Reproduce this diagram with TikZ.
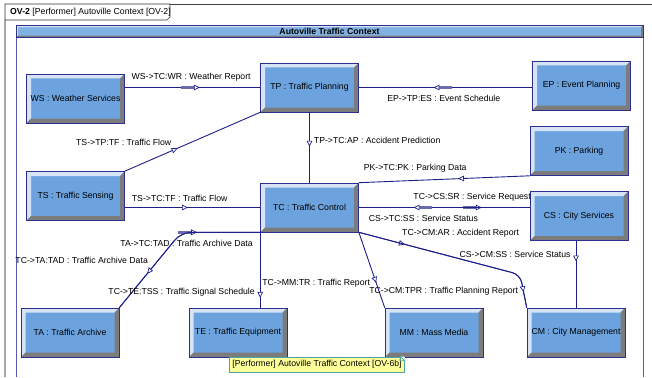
\documentclass[tikz,border=0pt]{standalone}
\usepackage{fontspec}
\setmainfont{Liberation Sans}
\usetikzlibrary{arrows.meta,decorations.markings}

\definecolor{facebl}{HTML}{6CA3DE}
\definecolor{bevlight}{HTML}{D6E4F6}
\definecolor{bevdark}{HTML}{7C7C7C}
\definecolor{boxline}{HTML}{2E2E8E}
\definecolor{edgeblue}{HTML}{1E1E8A}
\definecolor{barblue}{HTML}{6A6AAE}
\definecolor{frameblue}{HTML}{5858B0}
\definecolor{notefill}{HTML}{FFFF99}
\definecolor{noteteal}{HTML}{4CA6A6}
\definecolor{tabgray}{HTML}{A8A8A8}

\newcommand\lblfont{\fontsize{8.7}{10}\selectfont}
\newcommand\ppb{path picture bounding box}

\tikzset{
    bevelled/.style={draw=boxline, line width=0.6pt, fill=facebl, inner sep=0pt,
        path picture={
            \fill[bevlight] (\ppb.south west) -- (\ppb.north west) -- (\ppb.north east)
                -- ([shift={(-#1,-#1)}]\ppb.north east) -- ([shift={(#1,-#1)}]\ppb.north west)
                -- ([shift={(#1,#1)}]\ppb.south west) -- cycle;
            \fill[bevdark] (\ppb.south west) -- (\ppb.south east) -- (\ppb.north east)
                -- ([shift={(-#1,-#1)}]\ppb.north east) -- ([shift={(-#1,#1)}]\ppb.south east)
                -- ([shift={(#1,#1)}]\ppb.south west) -- cycle;
        }},
    performer/.style={bevelled=4.5pt, minimum width=98pt, minimum height=49pt, font=\lblfont},
    edgeline/.style={draw=edgeblue, line width=0.9pt},
    flow/.style={edgeline, postaction={decorate}, decoration={markings, mark=at position #1 with
        {\arrow[edgeblue, line width=0.7pt]{Triangle[fill=white, length=6pt, width=5.5pt]}}}},
    flowbar/.style={edgeline, postaction={decorate}, decoration={markings, mark=at position #1 with
        {\draw[barblue, line width=2.4pt] (-19pt,0) -- (-6pt,0);
         \arrow[edgeblue, line width=0.7pt]{Triangle[fill=white, length=6pt, width=5.5pt]}}}},
    lbl/.style={font=\lblfont, inner sep=1pt, text=black},
    notebox/.style={draw=noteteal, line width=0.8pt, fill=notefill, font=\lblfont, inner sep=2.5pt, minimum height=15pt},
}

\begin{document}
\begin{tikzpicture}[x=1pt, y=-1pt]
    \useasboundingbox (0,0) rectangle (652,377);

    \draw[tabgray, line width=2pt] (5,20) -- (5,377);
    \draw[black!75, line width=0.7pt] (170,4) -- (652,4);
    \draw[black!80, line width=0.7pt, fill=white] (5,4) -- (170,4) -- (170,17) -- (167,20) -- (5,20) -- cycle;
    \node[lbl, anchor=west] (tabname) at (9,12.5) {\textbf{OV-2} [Performer] Autoville Context [OV-2]};

    \draw[frameblue, line width=0.8pt] (16,377) -- (16,25) -- (643,25) -- (643,377);
    \node[bevelled=2pt, minimum width=627pt, minimum height=12.5pt, font=\lblfont\bfseries, fill=facebl!85!white] (ctxbar) at (329.5,31.5) {Autoville Traffic Context};

    \node[performer] (WS) at (75.5,98.5) {WS : Weather Services};
    \node[performer] (TP) at (309.5,87.5) {TP : Traffic Planning};
    \node[performer] (EP) at (581.5,85.5) {EP : Event Planning};
    \node[performer] (PK) at (579,151) {PK : Parking};
    \node[performer] (TS) at (75.5,196) {TS : Traffic Sensing};
    \node[performer] (TC) at (309.5,207.5) {TC : Traffic Control};
    \node[performer] (CS) at (579,216) {CS : City Services};
    \node[performer] (TA) at (70,332.5) {TA : Traffic Archive};
    \node[performer] (TE) at (238,332.5) {TE : Traffic Equipment};
    \node[performer] (MM) at (434,332.5) {MM : Mass Media};
    \node[performer] (CM) at (576,332.5) {CM : City Management};

    \draw[flowbar=0.555] (WS.east |- TP.west) -- (TP.west) node[lbl, pos=0.49, yshift=10pt] {WS->TC:WR : Weather Report};
    \draw[flowbar=0.57] (EP.west |- TP.east) -- (TP.east) node[lbl, pos=0.51, yshift=-10.5pt] {EP->TP:ES : Event Schedule};
    \draw[flow=0.39] (TS.north east) -- (TP.south west) node[lbl, pos=0.39, anchor=east, xshift=-5pt, yshift=6pt] {TS->TP:TF : Traffic Flow};
    \draw[flow=0.49] (TP.south) -- (TC.north) node[lbl, pos=0.4, anchor=west, xshift=3pt] {TP->TC:AP : Accident Prediction};
    \draw[flow=0.42] (PK.south west) -- (TC.north east) node[lbl, pos=0.67, yshift=12pt] {PK->TC:PK : Parking Data};
    \draw[flow=0.467] (TS.east |- TC.west) -- (TC.west) node[lbl, pos=0.405, yshift=9.5pt] {TS->TC:TF : Traffic Flow};
    \draw[flowbar=0.72] (TC.east) -- (CS.west |- TC.east) node[lbl, pos=0.663, yshift=10pt] {TC->CS:SR : Service Request};
    \draw[flowbar=0.68] (CS.west |- TC.east) -- (TC.east) node[lbl, pos=0.622, yshift=-10.5pt] {CS->TC:SS : Service Status};
    \draw[flowbar=0.64, rounded corners=10pt] (TA.north east) -- ([xshift=-79pt]TC.south west) -- (TC.south west) node[lbl, pos=1, anchor=east, xshift=-6pt, yshift=-11pt] {TA->TC:TAD : Traffic Archive Data};
    \draw[flow=0.75, rounded corners=10pt] (TC.south west) -- ([xshift=-79pt]TC.south west) -- (TA.north east) node[lbl, pos=0.37, anchor=east, xshift=-9pt] {TC->TA:TAD : Traffic Archive Data};
    \draw[flow=0.87] (TC.south west) -- (TC.south west |- TE.north) node[lbl, pos=0.79, anchor=east, xshift=-4pt] {TC->TE:TSS : Traffic Signal Schedule};
    \draw[flow=0.67] (TC.south east) -- (MM.north west) node[lbl, pos=0.68, anchor=east, xshift=-5pt] {TC->MM:TR : Traffic Report};
    \draw[flow=0.24, rounded corners=8pt] (TC.south east) -- ([shift={(-6.5pt,33pt)}]CM.north west) node[lbl, pos=0.26, anchor=west, yshift=10pt] {TC->CM:AR : Accident Report} -- (CM.north west);
    \draw[flow=0.92, rounded corners=8pt] (TC.south east) -- ([shift={(-6.5pt,33pt)}]CM.north west) -- (CM.north west) node[lbl, pos=0.5, anchor=east, xshift=-4pt] {TC->CM:TPR : Traffic Planning Report};
    \draw[flow=0.31] (CS.south -| CM.north) -- (CM.north) node[lbl, pos=0.2, anchor=east, xshift=-4pt] {CS->CM:SS : Service Status};

    \node[notebox] (ovnote) at (317,364.5) {[Performer] Autoville Traffic Context [OV-6b]};
    \fill[white] ([xshift=-4pt]ovnote.north east) -- (ovnote.north east) -- ([yshift=-4pt]ovnote.north east) -- cycle;
    \draw[noteteal, line width=0.6pt] ([xshift=-4pt]ovnote.north east) -- ([xshift=-4pt,yshift=-4pt]ovnote.north east) -- ([yshift=-4pt]ovnote.north east) -- cycle;
\end{tikzpicture}
\end{document}
